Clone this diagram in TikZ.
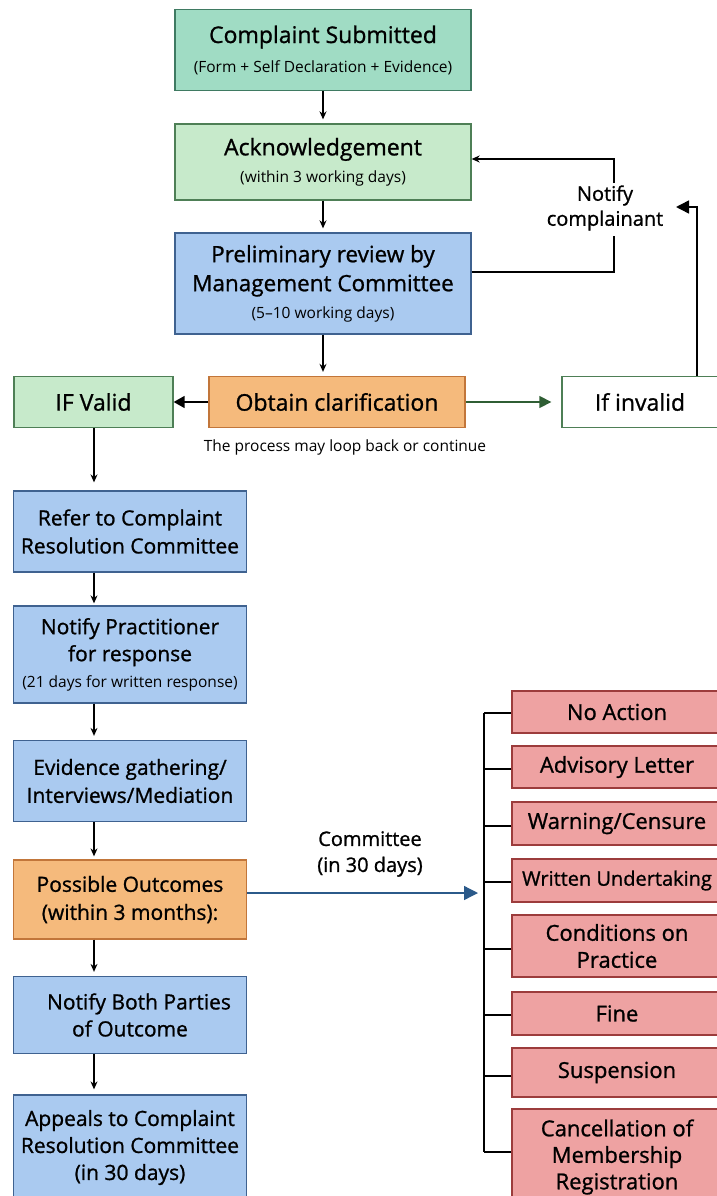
\documentclass[tikz,border=0pt]{standalone}
\usepackage{fontspec}
\setmainfont{Open Sans}
\newfontfamily\medf[FakeBold=1.0]{Open Sans}
\usetikzlibrary{arrows.meta}
\definecolor{tealF}{HTML}{A0DCC4}
\definecolor{tealD}{HTML}{3F7A62}
\definecolor{ltgF}{HTML}{C7EACB}
\definecolor{ltgD}{HTML}{4E7F56}
\definecolor{bluF}{HTML}{AACAF0}
\definecolor{bluD}{HTML}{3F6290}
\definecolor{orF}{HTML}{F5BA7C}
\definecolor{orD}{HTML}{C2763A}
\definecolor{redF}{HTML}{EEA2A2}
\definecolor{redD}{HTML}{9C3C3C}
\definecolor{grnA}{HTML}{2F5E34}
\definecolor{bluA}{HTML}{2B5A8A}
\newcommand\subf{\normalfont\fontsize{15.5}{20}\selectfont}
\tikzset{
  box/.style={draw, line width=1.3pt, align=center, inner sep=0pt, text=black},
  tbig/.style={font=\medf\fontsize{23}{29}\selectfont},
  tmid/.style={font=\medf\fontsize{21}{28}\selectfont},
  tred/.style={font=\medf\fontsize{22}{27}\selectfont},
  conn/.style={line width=1.2pt, -{Stealth[length=8pt,width=7pt]}},
  plain/.style={line width=1.2pt},
  redbox/.style={box, fill=redF, draw=redD, minimum width=210pt, tred},
  leftbox/.style={box, fill=bluF, draw=bluD, minimum width=233pt, tmid},
}
\begin{document}
\begin{tikzpicture}[x=1pt,y=-1pt]
\useasboundingbox (0,0) rectangle (717,1196);
\fill[white] (0,0) rectangle (717,1196);

% top column
\node[box, fill=tealF, draw=tealD, minimum width=296pt, minimum height=81pt, tbig] (cs) at (323,50)
  {Complaint Submitted\\{\subf (Form + Self Declaration + Evidence)}};
\node[box, fill=ltgF, draw=ltgD, minimum width=296pt, minimum height=76pt, tbig] (ack) at (323,162)
  {Acknowledgement\\[-2pt]{\subf (within 3 working days)}};
\node[box, fill=bluF, draw=bluD, minimum width=296pt, minimum height=101pt, font=\medf\fontsize{22.5}{29}\selectfont] (pre) at (323,283.5)
  {Preliminary review by\\Management Committee\\[-2pt]{\subf (5--10 working days)}};

% middle row
\node[box, fill=orF, draw=orD, minimum width=256pt, minimum height=51pt, tbig] (obt) at (337,402) {Obtain clarification};
\node[box, fill=ltgF, draw=ltgD, minimum width=159pt, minimum height=51pt, tbig] (ifv) at (93.5,402) {IF Valid};
\node[box, fill=white, draw=ltgD, minimum width=168pt, minimum height=51pt, tbig] (inv) at (646,402) {\hspace*{-12pt}If invalid};
\node[font=\fontsize{15.5}{20}\selectfont] (loopnote) at (345,447) {The process may loop back or continue};

% left column
\node[leftbox, minimum height=81pt] (ref) at (130,531.5) {Refer to Complaint\\Resolution Committee};
\node[leftbox, minimum height=97pt, font=\medf\fontsize{21}{27}\selectfont] (notp) at (130,654.5) {Notify Practitioner\\for response\\[-1pt]{\subf (21 days for written response)}};
\node[leftbox, minimum height=81pt] (evi) at (130,781) {Evidence gathering/\\Interviews/Mediation};
\node[box, fill=orF, draw=orD, minimum width=233pt, minimum height=79pt, tmid] (pos) at (130,899.5) {Possible Outcomes\\(within 3 months):};
\node[leftbox, minimum height=77pt, font=\medf\fontsize{21}{27}\selectfont] (nbp) at (130,1015) {\hspace*{18pt}Notify Both Parties\\of Outcome};
\node[leftbox, minimum height=105pt, font=\medf\fontsize{21}{27}\selectfont] (app) at (130,1147.5) {Appeals to Complaint\\Resolution Committee\\(in 30 days)};

% right column
\node[redbox, minimum height=42pt] (r1) at (617,712) {No Action};
\node[redbox, minimum height=42pt] (r2) at (617,767) {Advisory Letter};
\node[redbox, minimum height=43pt] (r3) at (617,823.5) {Warning/Censure};
\node[redbox, minimum height=43pt, font=\medf\fontsize{20}{24}\selectfont] (r4) at (617,880.5) {Written Undertaking};
\node[redbox, minimum height=62pt] (r5) at (617,946) {Conditions on\\Practice};
\node[redbox, minimum height=43pt] (r6) at (617,1013.5) {Fine};
\node[redbox, minimum height=49pt] (r7) at (617,1072.5) {Suspension};
\node[redbox, minimum height=96pt, font=\medf\fontsize{22}{26.5}\selectfont] (r8) at (617,1157) {Cancellation of\\Membership\\Registration};

\node[font=\medf\fontsize{20}{26}\selectfont, align=center] (cml) at (370,854) {Committee\\(in 30 days)};
\node[font=\medf\fontsize{20}{25}\selectfont, align=center] (ncl) at (605,208) {Notify\\complainant};

\coordinate (lx) at (94,0);
\coordinate (brk) at (484,0);
\coordinate (lpb) at (614,236);
\coordinate (lpt) at (614,183);
\coordinate (tipR) at (676,207);
\coordinate (tipB) at (478,893);

% top arrows
\draw[conn, shorten >=4pt] (cs.south) -- (ack.north);
\draw[conn, shorten >=4pt] (ack.south) -- (pre.north);
\draw[conn, shorten >=4pt] (pre.south) -- (pre.south |- obt.north);
\draw[plain] ([yshift=11.5pt]pre.east) -| (lpb);
\draw[conn] (lpt) |- ([yshift=3pt]ack.east);
\draw[line width=1.5pt, -{Triangle[length=13pt,width=13pt]}] ([xshift=51pt]inv.north) |- (tipR);
\draw[line width=1.5pt, -{Triangle[length=11pt,width=12pt]}] (obt.west) -- (ifv.east);
\draw[line width=1.3pt, draw=grnA, -{Triangle[length=12pt,width=12pt]}, shorten >=10pt] (obt.east) -- (inv.west);

% left column arrows
\draw[conn, shorten >=8pt] (ifv.south -| lx) -- (ref.north -| lx);
\draw[conn, shorten >=2pt] (ref.south -| lx) -- (notp.north -| lx);
\draw[conn, shorten >=4pt] (notp.south -| lx) -- (evi.north -| lx);
\draw[conn, shorten >=3pt] (evi.south -| lx) -- (pos.north -| lx);
\draw[conn, shorten >=4pt] (pos.south -| lx) -- (nbp.north -| lx);
\draw[conn, shorten >=5pt] (nbp.south -| lx) -- (app.north -| lx);

% outcomes
\draw[line width=1.3pt, draw=bluA, -{Triangle[length=14pt,width=14pt]}] ([yshift=6.5pt]pos.east) -- (tipB);
\draw[plain] ([yshift=-1pt]r1.west -| brk) -- ([yshift=5pt]r8.west -| brk);
\foreach \r/\d in {r1/-1,r2/-2,r3/-2.5,r4/-1.5,r5/-3,r6/-1.5,r7/-3.5,r8/5} {
  \draw[plain] ([yshift=\d pt]\r.west) -- ([yshift=\d pt]\r.west -| brk);
}
\end{tikzpicture}
\end{document}
